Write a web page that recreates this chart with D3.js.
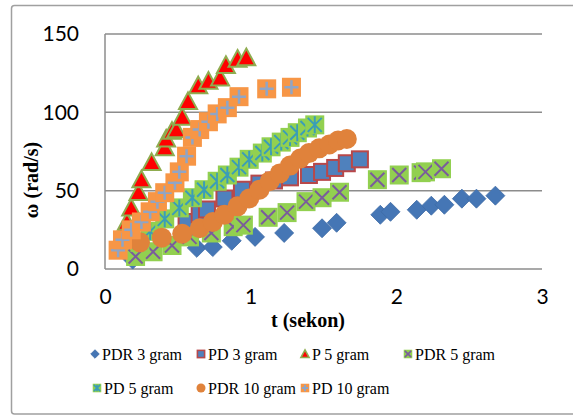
<!DOCTYPE html>
<html><head><meta charset="utf-8">
<script src="https://cdn.jsdelivr.net/npm/d3@7"></script>
<style>html,body{margin:0;padding:0;background:#fff;overflow:hidden}</style>
</head><body>
<svg id="c" width="573" height="416"></svg>
<script>
const xTicks = [0, 1, 2, 3];
const yTicks = [0, 50, 100, 150];
const seriesNames = ["PDR 3 gram", "PD 3 gram", "P 5 gram", "PDR 5 gram", "PD 5 gram", "PDR 10 gram", "PD 10 gram"];

const pdr3 = [[0.19,6],[0.63,13.5],[0.74,14],[0.87,18],[1.03,20.5],[1.23,23],[1.49,26],[1.59,29.5],[1.89,34.6],[1.96,36.5],[2.14,37.8],[2.24,40.4],[2.33,41],[2.45,44.9],[2.55,44.9],[2.68,46.8]];
const pd3 = [[0.56,30],[0.65,35],[0.70,38],[0.82,45],[0.94,50.6],[1.06,54.5],[1.16,56.5],[1.27,58.5],[1.40,60],[1.49,62],[1.58,64.5],[1.66,67.5],[1.75,70]];
const p5 = [[0.13,25],[0.15,30],[0.18,39],[0.23,49],[0.25,57],[0.32,68],[0.41,77.5],[0.42,83],[0.46,88],[0.49,89],[0.53,97],[0.57,107],[0.64,117],[0.71,120],[0.79,122],[0.83,130],[0.91,134],[0.97,135]];
const pdr5 = [[0.21,8],[0.33,11],[0.46,15],[0.58,20.5],[0.73,23],[0.88,27],[0.95,28],[1.12,33],[1.25,36],[1.38,43],[1.49,45.5],[1.61,49],[1.87,57],[2.02,60],[2.17,61.5],[2.20,62],[2.31,64]];
const pd5 = [[0.24,17],[0.31,24],[0.41,32],[0.51,39],[0.60,45.5],[0.68,50.6],[0.77,56],[0.84,60],[0.92,65],[0.99,70],[1.08,74],[1.14,78],[1.21,81],[1.27,84],[1.32,87],[1.39,90],[1.44,92]];
const pdr10 = [[0.24,17],[0.39,20],[0.53,22.5],[0.65,26],[0.74,30],[0.82,34.6],[0.91,40],[0.99,45],[1.06,50.6],[1.13,56],[1.20,61],[1.27,66],[1.34,70.5],[1.40,74],[1.47,77],[1.54,79.5],[1.60,82],[1.66,83]];
const pd10 = [[0.09,12],[0.12,18.6],[0.18,25],[0.25,30],[0.31,36.5],[0.36,43],[0.41,48.7],[0.48,55],[0.51,62],[0.56,72],[0.60,84],[0.65,89],[0.71,94],[0.77,99],[0.84,103],[0.92,110],[1.11,115],[1.28,116]];
const seriesData = [pdr3, pd3, p5, pdr5, pd5, pdr10, pd10];

const svg = d3.select("#c");
const x = d3.scaleLinear().domain([0, 3]).range([105, 542]);
const y = d3.scaleLinear().domain([0, 150]).range([269, 34]);

// outer chart border
svg.append("rect").attr("x", 11.5).attr("y", 5.5).attr("width", 570).attr("height", 408.5)
  .attr("rx", 3).attr("fill", "#fff").attr("stroke", "#a0a0a0").attr("stroke-width", 1.5);

// gridlines
svg.append("g").selectAll("line").data(yTicks).join("line")
  .attr("x1", x(0)).attr("x2", x(3)).attr("y1", d => y(d)).attr("y2", d => y(d))
  .attr("stroke", "#8c8c8c").attr("stroke-width", 1.5);
// left axis line
svg.append("line").attr("x1", x(0)).attr("x2", x(0)).attr("y1", y(150)).attr("y2", y(0))
  .attr("stroke", "#8c8c8c").attr("stroke-width", 1.5);

// y tick labels
const yAxis = svg.append("g").attr("transform", `translate(${x(0)},0)`)
  .call(d3.axisLeft(y).tickValues(yTicks).tickSize(0).tickPadding(26).tickFormat(d3.format("d")));
yAxis.select(".domain").remove();
yAxis.selectAll("text").attr("font-family", "Lato, sans-serif").attr("font-size", 21).attr("fill", "#000");

// x tick labels
const xAxis = svg.append("g").attr("transform", `translate(0,${y(0)})`)
  .call(d3.axisBottom(x).tickValues(xTicks).tickSize(0).tickPadding(20).tickFormat(d3.format("d")));
xAxis.select(".domain").remove();
xAxis.selectAll("text").attr("font-family", "Lato, sans-serif").attr("font-size", 21).attr("fill", "#000");

// axis titles
svg.append("text").attr("x", 308).attr("y", 327).attr("text-anchor", "middle")
  .attr("font-family", "'Liberation Serif', 'Times New Roman', serif").attr("font-weight", "bold")
  .attr("font-size", 20).text("t (sekon)");
svg.append("text").attr("transform", "translate(38,180) rotate(-90)").attr("text-anchor", "middle")
  .attr("font-family", "'Liberation Serif', 'Times New Roman', serif").attr("font-weight", "bold")
  .attr("font-size", 20).text("ω (rad/s)");

// marker drawing
function drawMarker(g, k, s) {
  // s = scale factor (1 for plot, small for legend)
  if (k === 0) {
    const r = 9.5 * s;
    g.append("path").attr("d", `M0,${-r}L${r},0L0,${r}L${-r},0Z`).attr("fill", "#4576b5").attr("stroke", "#3d6ba6").attr("stroke-width", 0.8);
  } else if (k === 1) {
    const h = 8 * s;
    g.append("rect").attr("x", -h).attr("y", -h).attr("width", 2*h).attr("height", 2*h)
      .attr("fill", "#4f81bd").attr("stroke", "#b8484a").attr("stroke-width", 2 * Math.max(s, 0.8));
  } else if (k === 2) {
    const h = 9 * s;
    g.append("path").attr("d", `M0,${-h}L${h},${h*0.85}L${-h},${h*0.85}Z`).attr("fill", "#ff0000")
      .attr("stroke", "#8fac4f").attr("stroke-width", 2 * Math.max(s, 0.8)).attr("stroke-linejoin", "miter");
  } else if (k === 3) {
    const h = 9.5 * s, c = 7 * s;
    g.append("rect").attr("x", -h).attr("y", -h).attr("width", 2*h).attr("height", 2*h).attr("fill", "#92d050");
    g.append("path").attr("d", `M${-c},${-c}L${c},${c}M${c},${-c}L${-c},${c}`).attr("stroke", "#7a5c9c").attr("stroke-width", 2 * Math.max(s, 0.8));
  } else if (k === 4) {
    const h = 9.5 * s, c = 7 * s;
    g.append("rect").attr("x", -h).attr("y", -h).attr("width", 2*h).attr("height", 2*h).attr("fill", "#92d050");
    g.append("path").attr("d", `M${-c},${-c}L${c},${c}M${c},${-c}L${-c},${c}M0,${-h+1}L0,${h-1}`).attr("stroke", "#3a9db8").attr("stroke-width", 2 * Math.max(s, 0.8));
  } else if (k === 5) {
    g.append("circle").attr("r", 10 * s).attr("fill", "#e0823b");
  } else if (k === 6) {
    const h = 9.5 * s, c = 7 * s;
    g.append("rect").attr("x", -h).attr("y", -h).attr("width", 2*h).attr("height", 2*h).attr("fill", "#f79646");
    g.append("path").attr("d", `M${-c},0L${c},0M0,${-c}L0,${c}`).attr("stroke", "#8fa5c6").attr("stroke-width", 2.5 * Math.max(s, 0.8));
  }
}

const plot = svg.append("g");
seriesData.forEach((data, k) => {
  const sg = plot.append("g");
  sg.selectAll("g").data(data).join("g")
    .attr("transform", d => `translate(${x(d[0])},${y(d[1])})`)
    .each(function () { drawMarker(d3.select(this), k, 1); });
});

// legend
const legendPos = [[95,354],[201,354],[305,354],[408,354],[97,388],[201,388],[305,388]];
const legend = svg.append("g");
seriesNames.forEach((name, k) => {
  const [lx, ly] = legendPos[k];
  const g = legend.append("g").attr("transform", `translate(${lx},${ly})`);
  drawMarker(g, k, 0.45);
  g.append("text").attr("x", 7).attr("y", 5.5).attr("font-family", "'Liberation Serif', 'Times New Roman', serif")
    .attr("font-size", 16).attr("fill", "#000").text(name);
});
</script>
</body></html>
